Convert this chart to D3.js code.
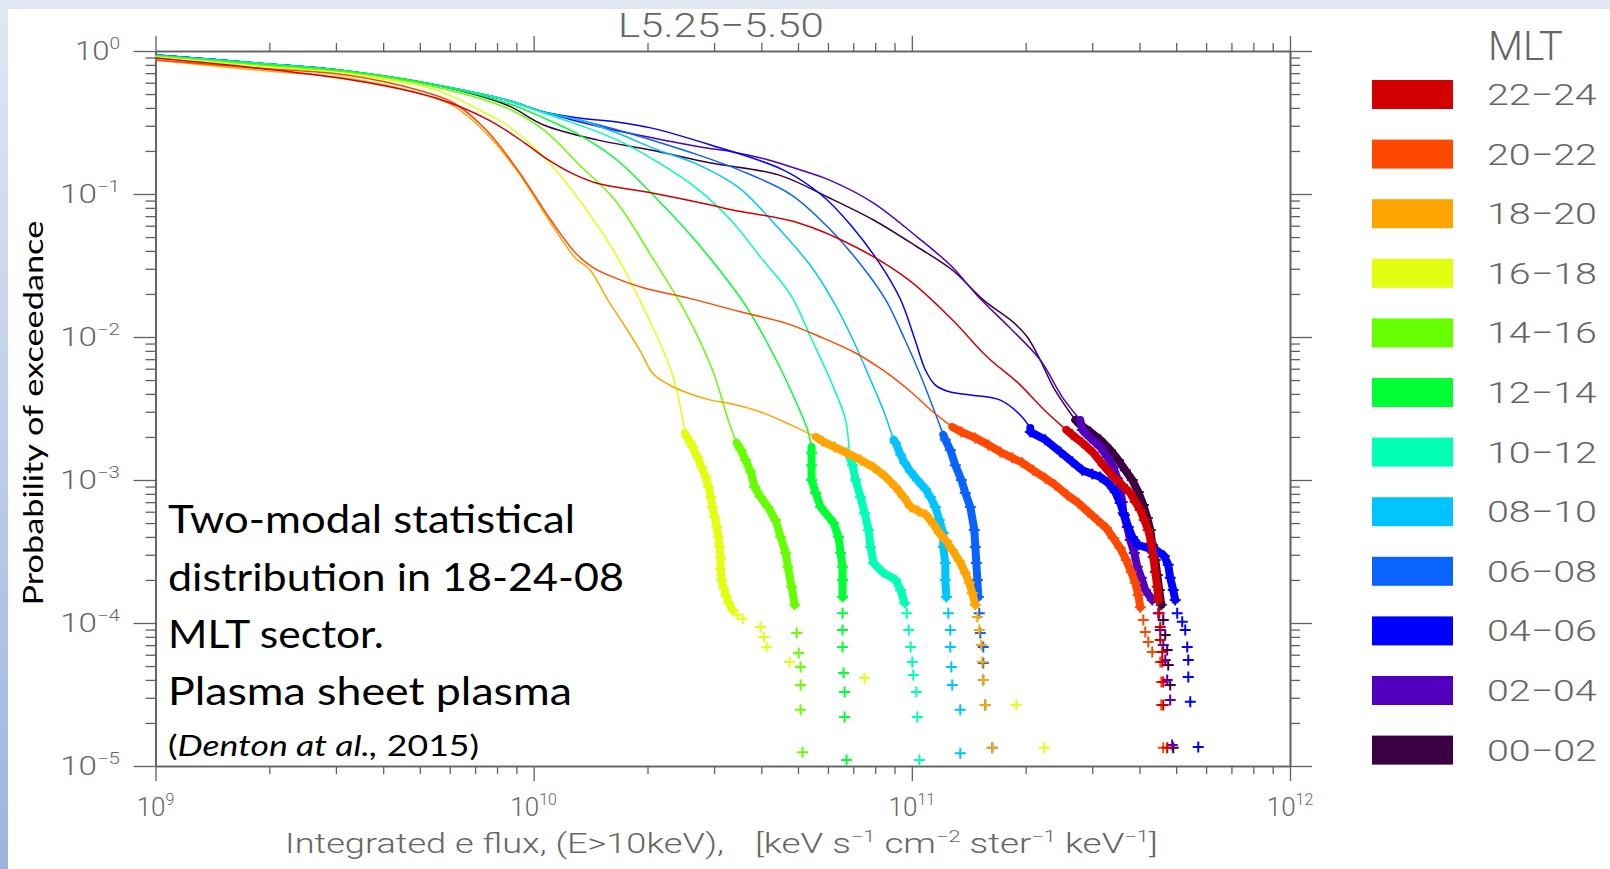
<!DOCTYPE html>
<html><head><meta charset="utf-8">
<script src="https://cdn.jsdelivr.net/npm/d3@7"></script>
<style>
html,body{margin:0;padding:0;width:1610px;height:869px;overflow:hidden;background:#fff;}
svg{display:block}
.ax .domain{stroke:#606060;stroke-width:1.6px}
.ax line{stroke:#606060;stroke-width:1.3px}
.lbl{font-family:Roboto,"DejaVu Sans",sans-serif;font-weight:300;fill:#666}
.note{font-family:Lato,"Open Sans",sans-serif;fill:#000}
</style></head><body>
<svg id="c" width="1610" height="869"></svg>
<script>
// ---------------- data ----------------
const categories = ["22−24","20−22","18−20","16−18","14−16","12−14","10−12","08−10","06−08","04−06","02−04","00−02"];
const seriesColors = ["#d20000","#ff4800","#ffa400","#e2ff12","#66ff00","#00ff33","#00ffb4","#00c4ff","#0a62ff","#0000ff","#5200bd","#3a0042"];
const xTickExponents = ["9","10","11","12"];
const yTickExponents = ["0","−1","−2","−3","−4","−5"];
const xMajor = [1e9,1e10,1e11,1e12];
const yMajor = [1,1e-1,1e-2,1e-3,1e-4,1e-5];
const title = "L5.25−5.50";
const legendTitle = "MLT";

// 22-24 MLT
const line2224 = [[1.0e9,0.894],[1.85e9,0.761],[3.56e9,0.607],[5.51e9,0.469],[7.61e9,0.329],[9.48e9,0.227],[1.063e10,0.182],[1.26e10,0.140],[1.47e10,0.119],[2.04e10,0.102],[2.94e10,0.0838],[3.36e10,0.0773],[5.02e10,0.0627],[7.10e10,0.0426],[9.81e10,0.0251],[1.279e11,0.0132],[1.583e11,0.00725],[1.912e11,0.00476],[2.24e11,0.00309],[2.562e11,0.00224]];
const tail2224 = [[2.656e11,0.00207],[2.823e11,0.00182],[3.018e11,0.00155],[3.208e11,0.00127],[3.409e11,0.00105],[3.601e11,0.000923],[3.781e11,0.000811],[3.898e11,0.000702],[4.019e11,0.000617],[4.118e11,0.000525],[4.219e11,0.000447],[4.297e11,0.000362],[4.349e11,0.00029],[4.403e11,0.000227],[4.457e11,0.000179],[4.484e11,0.000145],[4.511e11,0.000117],[4.539e11,9.38e-5],[4.539e11,7.61e-5],[4.594e11,6.27e-5],[4.594e11,5.33e-5],[4.622e11,3.86e-5],[4.622e11,2.67e-5],[4.735e11,1.34e-5]];
// 20-22 MLT
const line2022 = [[1.0e9,0.865],[1.85e9,0.761],[3.19e9,0.679],[4.94e9,0.534],[6.15e9,0.433],[7.48e9,0.281],[9.08e9,0.147],[1.11e10,0.0658],[1.29e10,0.0387],[1.44e10,0.0304],[1.64e10,0.0259],[1.96e10,0.0220],[2.57e10,0.0187],[3.63e10,0.0147],[4.64e10,0.0125],[5.74e10,0.0100],[7.10e10,0.00773],[8.37e10,0.00588],[9.81e10,0.00426],[1.147e11,0.00294],[1.279e11,0.00235]];
const tail2022 = [[1.352e11,0.00217],[1.472e11,0.00197],[1.593e11,0.00176],[1.714e11,0.00157],[1.844e11,0.00143],[1.959e11,0.00132],[2.094e11,0.00117],[2.254e11,0.00103],[2.395e11,0.000923],[2.576e11,0.000785],[2.755e11,0.00069],[2.928e11,0.000597],[3.093e11,0.000525],[3.267e11,0.000461],[3.409e11,0.000393],[3.557e11,0.000334],[3.69e11,0.000276],[3.804e11,0.000227],[3.898e11,0.000191],[3.97e11,0.000157],[4.019e11,0.000129],[4.093e11,0.000105],[4.143e11,8.65e-5],[4.219e11,7.36e-5],[4.323e11,6.27e-5],[4.539e11,5.33e-5],[4.567e11,3.86e-5],[4.567e11,2.67e-5],[4.622e11,1.34e-5]];
// 18-20 MLT
const line1820 = [[1.0e9,0.865],[1.85e9,0.736],[3.19e9,0.647],[4.94e9,0.508],[6.15e9,0.412],[7.48e9,0.267],[9.08e9,0.143],[1.11e10,0.0627],[1.29e10,0.0356],[1.41e10,0.0294],[1.57e10,0.0182],[1.75e10,0.0117],[1.92e10,0.00785],[2.06e10,0.0056],[2.26e10,0.00469],[2.60e10,0.00399],[2.94e10,0.00362],[3.36e10,0.0034],[3.98e10,0.00299],[4.78e10,0.00243],[5.57e10,0.0020]];
const tail1820 = [[5.80e10,0.00187],[6.25e10,0.0017],[6.72e10,0.00155],[7.32e10,0.00138],[7.92e10,0.00123],[8.53e10,0.00105],[9.06e10,0.000894],[9.51e10,0.000761],[9.93e10,0.000647],[1.04e11,0.000607],[1.092e11,0.000569],[1.14e11,0.000492],[1.182e11,0.000426],[1.234e11,0.000374],[1.279e11,0.000324],[1.335e11,0.000272],[1.385e11,0.000224],[1.419e11,0.000191],[1.445e11,0.000162],[1.472e11,0.000134],[1.49e11,0.00011],[1.508e11,8.94e-5],[1.526e11,7.02e-5],[1.536e11,5.33e-5],[1.545e11,3.99e-5],[1.564e11,2.67e-5],[1.632e11,1.34e-5]];
// 16-18 MLT
const line1618 = [[1.0e9,0.908],[1.85e9,0.785],[3.19e9,0.690],[5.51e9,0.534],[7.61e9,0.357],[8.49e9,0.304],[1.063e10,0.182],[1.32e10,0.0908],[1.64e10,0.0387],[2.04e10,0.0125],[2.32e10,0.0056],[2.48e10,0.00263],[2.51e10,0.00213]];
const tail1618 = [[2.54e10,0.0020],[2.60e10,0.00182],[2.63e10,0.0017],[2.71e10,0.00145],[2.78e10,0.00123],[2.85e10,0.00105],[2.90e10,0.000894],[2.94e10,0.000761],[2.97e10,0.000647],[3.01e10,0.000551],[3.05e10,0.000469],[3.08e10,0.000399],[3.10e10,0.00034],[3.12e10,0.000285],[3.12e10,0.000239],[3.14e10,0.0002],[3.18e10,0.000176],[3.22e10,0.000157],[3.28e10,0.000138],[3.36e10,0.000123],[3.46e10,0.000114],[3.57e10,0.000107],[3.98e10,9.38e-5],[4.06e10,7.98e-5],[4.13e10,6.79e-5],[4.75e10,5.33e-5],[7.50e10,4.12e-5],[1.889e11,2.67e-5],[2.24e11,1.34e-5]];
// 14-16 MLT
const line1416 = [[1.0e9,0.923],[1.85e9,0.798],[3.19e9,0.713],[5.51e9,0.560],[8.49e9,0.399],[1.063e10,0.281],[1.32e10,0.160],[1.64e10,0.0908],[2.04e10,0.0374],[2.54e10,0.0143],[2.97e10,0.00588],[3.30e10,0.00243],[3.44e10,0.00182]];
const tail1416 = [[3.53e10,0.00162],[3.63e10,0.00138],[3.75e10,0.00114],[3.84e10,0.000894],[3.98e10,0.000761],[4.16e10,0.000647],[4.36e10,0.000525],[4.50e10,0.000399],[4.64e10,0.000309],[4.70e10,0.000247],[4.81e10,0.000179],[4.90e10,0.000134],[4.96e10,8.51e-5],[5.02e10,6.17e-5],[5.08e10,4.92e-5],[5.08e10,3.68e-5],[5.08e10,2.47e-5],[5.14e10,1.25e-5]];
// 12-14 MLT
const line1214 = [[1.0e9,0.923],[1.85e9,0.811],[3.19e9,0.725],[5.51e9,0.578],[8.49e9,0.433],[1.063e10,0.340],[1.32e10,0.259],[1.66e10,0.173],[2.13e10,0.0908],[2.60e10,0.0517],[3.10e10,0.0294],[3.63e10,0.0167],[4.23e10,0.00824],[4.78e10,0.00426],[5.30e10,0.00224],[5.43e10,0.0017]];
const tail1214 = [[5.43e10,0.00155],[5.43e10,0.00127],[5.43e10,0.001],[5.57e10,0.000811],[5.74e10,0.000647],[6.21e10,0.0005],[6.40e10,0.000399],[6.48e10,0.000309],[6.56e10,0.000247],[6.56e10,0.0002],[6.56e10,0.000152],[6.56e10,0.000117],[6.56e10,8.94e-5],[6.56e10,6.79e-5],[6.60e10,4.47e-5],[6.64e10,3.29e-5],[6.64e10,2.2e-5],[6.72e10,1.1e-5]];
// 10-12 MLT
const line1012 = [[1.0e9,0.923],[1.85e9,0.824],[3.19e9,0.725],[5.51e9,0.578],[8.49e9,0.454],[1.063e10,0.368],[1.32e10,0.304],[1.66e10,0.239],[2.13e10,0.167],[2.73e10,0.107],[3.32e10,0.0658],[3.98e10,0.0362],[4.78e10,0.0197],[5.43e10,0.00968],[6.17e10,0.00461],[6.68e10,0.00263],[6.84e10,0.00145]];
const tail1012 = [[6.97e10,0.00127],[7.10e10,0.001],[7.32e10,0.000761],[7.50e10,0.000588],[7.68e10,0.000447],[7.78e10,0.00034],[7.92e10,0.000263],[8.37e10,0.000227],[9.06e10,0.0002],[9.34e10,0.00017],[9.57e10,0.000138],[9.69e10,0.000117],[9.81e10,8.94e-5],[9.93e10,6.79e-5],[1.003e11,5.33e-5],[1.009e11,4.33e-5],[1.028e11,3.29e-5],[1.034e11,2.2e-5],[1.047e11,1.1e-5]];
// 08-10 MLT
const line0810 = [[1.0e9,0.938],[1.85e9,0.824],[3.19e9,0.725],[5.51e9,0.578],[8.49e9,0.454],[1.063e10,0.374],[1.32e10,0.329],[1.66e10,0.267],[2.13e10,0.203],[2.73e10,0.160],[3.50e10,0.110],[4.36e10,0.0607],[5.43e10,0.0309],[6.28e10,0.0167],[6.97e10,0.00968],[7.78e10,0.0050],[8.42e10,0.00304],[8.95e10,0.00191]];
const tail0810 = [[9.06e10,0.00182],[9.34e10,0.0015],[9.57e10,0.00132],[9.93e10,0.00114],[1.034e11,0.001],[1.086e11,0.000865],[1.119e11,0.000761],[1.154e11,0.000647],[1.182e11,0.000525],[1.211e11,0.000426],[1.211e11,0.00034],[1.226e11,0.000263],[1.226e11,0.0002],[1.234e11,0.000152],[1.249e11,0.000117],[1.264e11,8.94e-5],[1.264e11,6.79e-5],[1.272e11,4.92e-5],[1.279e11,3.68e-5],[1.343e11,2.47e-5],[1.343e11,1.23e-5]];
// 06-08 MLT
const line0608 = [[1.0e9,0.938],[1.85e9,0.824],[3.19e9,0.725],[5.51e9,0.578],[8.49e9,0.454],[1.063e10,0.374],[1.32e10,0.329],[1.66e10,0.281],[2.13e10,0.231],[2.73e10,0.187],[3.50e10,0.147],[4.81e10,0.0984],[6.10e10,0.0560],[7.41e10,0.0309],[8.53e10,0.0182],[9.57e10,0.00968],[1.053e11,0.00542],[1.147e11,0.00304],[1.211e11,0.00207]];
const tail0608 = [[1.226e11,0.00191],[1.264e11,0.00162],[1.303e11,0.00127],[1.352e11,0.001],[1.385e11,0.000811],[1.428e11,0.000647],[1.463e11,0.000447],[1.472e11,0.00034],[1.481e11,0.000263],[1.49e11,0.0002],[1.499e11,0.000152],[1.508e11,0.000117],[1.517e11,8.51e-5],[1.545e11,6.79e-5],[1.545e11,5.25e-5],[1.545e11,3.99e-5],[1.564e11,2.67e-5],[1.632e11,1.34e-5]];
// 04-06 MLT
const line0406 = [[1.0e9,0.938],[1.85e9,0.824],[3.19e9,0.725],[5.51e9,0.578],[8.49e9,0.454],[1.063e10,0.374],[1.32e10,0.340],[1.66e10,0.319],[2.04e10,0.290],[2.94e10,0.220],[4.58e10,0.147],[5.77e10,0.0984],[6.89e10,0.0607],[8.27e10,0.0319],[9.34e10,0.0182],[1.02e11,0.00953],[1.086e11,0.00588],[1.154e11,0.00461],[1.264e11,0.00412],[1.428e11,0.00393],[1.714e11,0.00362],[1.935e11,0.00285],[2.057e11,0.00231]];
const tail0406 = [[2.057e11,0.00217],[2.254e11,0.00191],[2.47e11,0.00157],[2.656e11,0.00134],[2.823e11,0.00117],[3.0e11,0.0011],[3.15e11,0.00105],[3.307e11,0.000953],[3.451e11,0.000824],[3.557e11,0.00069],[3.645e11,0.000569],[3.735e11,0.000469],[3.828e11,0.000399],[3.97e11,0.000351],[4.219e11,0.000334],[4.457e11,0.000319],[4.65e11,0.000294],[4.764e11,0.000255],[4.822e11,0.000207],[4.911e11,0.00017],[4.971e11,0.000145],[5.032e11,0.000117],[5.188e11,0.000102],[5.284e11,8.94e-5],[5.349e11,6.79e-5],[5.383e11,5.51e-5],[5.383e11,4.19e-5],[5.448e11,2.81e-5],[5.72e11,1.36e-5]];
// 02-04 MLT
const line0204 = [[1.0e9,0.938],[1.85e9,0.824],[3.19e9,0.725],[5.51e9,0.578],[8.49e9,0.454],[1.063e10,0.374],[1.50e10,0.294],[2.00e10,0.251],[2.76e10,0.213],[3.36e10,0.197],[4.18e10,0.173],[5.08e10,0.147],[6.06e10,0.125],[7.92e10,0.0865],[1.034e11,0.0500],[1.279e11,0.0309],[1.499e11,0.0191],[1.81e11,0.0117],[2.186e11,0.0069],[2.50e11,0.0038],[2.789e11,0.00263]];
const tail0204 = [[2.823e11,0.00224],[2.964e11,0.00197],[3.15e11,0.0017],[3.287e11,0.00145],[3.409e11,0.00123],[3.493e11,0.00103],[3.557e11,0.000865],[3.601e11,0.000702],[3.623e11,0.000588],[3.713e11,0.000469],[3.781e11,0.00038],[3.874e11,0.000309],[3.946e11,0.000247],[4.044e11,0.000207],[4.143e11,0.00017],[4.323e11,0.000145],[4.484e11,0.000117],[4.539e11,8.94e-5],[4.622e11,7.02e-5],[4.678e11,5.51e-5],[4.735e11,3.99e-5],[4.822e11,2.9e-5],[4.881e11,1.4e-5]];
// 00-02 MLT
const line0002 = [[1.0e9,0.938],[1.85e9,0.824],[3.19e9,0.725],[5.51e9,0.578],[8.49e9,0.419],[1.063e10,0.304],[1.47e10,0.239],[2.04e10,0.203],[2.94e10,0.165],[4.44e10,0.136],[6.06e10,0.0938],[7.92e10,0.0658],[1.034e11,0.0426],[1.279e11,0.0294],[1.545e11,0.0182],[1.866e11,0.0125],[2.02e11,0.0100],[2.186e11,0.0069],[2.366e11,0.00447],[2.705e11,0.00263]];
const tail0002 = [[2.789e11,0.00243],[2.964e11,0.00217],[3.15e11,0.00191],[3.348e11,0.00162],[3.515e11,0.00138],[3.668e11,0.00117],[3.828e11,0.001],[3.97e11,0.000824],[4.093e11,0.000668],[4.194e11,0.000542],[4.271e11,0.000447],[4.323e11,0.000351],[4.403e11,0.000276],[4.457e11,0.000217],[4.511e11,0.00017],[4.567e11,0.000134],[4.622e11,0.000105],[4.678e11,8.24e-5],[4.735e11,6.47e-5],[4.764e11,5.08e-5],[4.822e11,3.68e-5],[4.911e11,1.34e-5]];

const lines = [line2224,line2022,line1820,line1618,line1416,line1214,line1012,line0810,line0608,line0406,line0204,line0002];
const tails = [tail2224,tail2022,tail1820,tail1618,tail1416,tail1214,tail1012,tail0810,tail0608,tail0406,tail0204,tail0002];

const noteLines = ["Two-modal statistical","distribution in 18-24-08","MLT sector.","Plasma sheet plasma"];

// ---------------- drawing ----------------
const svg = d3.select("#c");
const defs = svg.append("defs");
const grad = defs.append("linearGradient").attr("id","bg").attr("x1",0).attr("y1",0).attr("x2",0).attr("y2",1);
grad.append("stop").attr("offset","0%").attr("stop-color","#e1e8f4");
grad.append("stop").attr("offset","100%").attr("stop-color","#9db3df");
svg.append("rect").attr("width",1610).attr("height",869).attr("fill","url(#bg)");
svg.append("rect").attr("x",8).attr("y",9).attr("width",1602).attr("height",860).attr("fill","#fff");

const P = {left:155.5, right:1290, top:51, bottom:766};
const x = d3.scaleLog().domain([1e9,1e12]).range([P.left,P.right]);
const y = d3.scaleLog().domain([1e-5,1]).range([P.bottom,P.top]);

function fitWidth(sel, w){
  const bb = sel.node().getBBox();
  const k = w / bb.width;
  sel.attr("transform", `translate(${bb.x},0) scale(${k},1) translate(${-bb.x},0)`);
}
function fitWidthRight(sel, w){
  const bb = sel.node().getBBox();
  const k = w / bb.width;
  const r = bb.x + bb.width;
  sel.attr("transform", `translate(${r},0) scale(${k},1) translate(${-r},0)`);
}

// minor tick values
const minorX = []; for (let e=9;e<12;e++) for (let m=2;m<10;m++) minorX.push(m*Math.pow(10,e));
const minorY = []; for (let e=-5;e<0;e++) for (let m=2;m<10;m++) minorY.push(m*Math.pow(10,e));

const ax = svg.append("g").attr("class","ax");
ax.append("g").attr("transform",`translate(0,${P.bottom})`).call(d3.axisBottom(x).tickValues(xMajor).tickSize(15).tickSizeOuter(0).tickFormat(""));
ax.append("g").attr("transform",`translate(0,${P.bottom})`).call(d3.axisBottom(x).tickValues(minorX).tickSize(8).tickSizeOuter(0).tickFormat(""));
ax.append("g").attr("transform",`translate(0,${P.top})`).call(d3.axisTop(x).tickValues(xMajor).tickSize(15).tickSizeOuter(0).tickFormat(""));
ax.append("g").attr("transform",`translate(0,${P.top})`).call(d3.axisTop(x).tickValues(minorX).tickSize(8).tickSizeOuter(0).tickFormat(""));
ax.append("g").attr("transform",`translate(${P.left},0)`).call(d3.axisLeft(y).tickValues(yMajor).tickSize(22).tickSizeOuter(0).tickFormat(""));
ax.append("g").attr("transform",`translate(${P.left},0)`).call(d3.axisLeft(y).tickValues(minorY).tickSize(10).tickSizeOuter(0).tickFormat(""));
ax.append("g").attr("transform",`translate(${P.right},0)`).call(d3.axisRight(y).tickValues(yMajor).tickSize(22).tickSizeOuter(0).tickFormat(""));
ax.append("g").attr("transform",`translate(${P.right},0)`).call(d3.axisRight(y).tickValues(minorY).tickSize(10).tickSizeOuter(0).tickFormat(""));

// tick labels
yMajor.forEach((v,i)=>{
  const t = svg.append("text").attr("class","lbl").attr("x",120).attr("y",y(v)+9).attr("text-anchor","end");
  t.append("tspan").attr("font-size",26).text("10");
  t.append("tspan").attr("font-size",16).attr("dy",-11).text(yTickExponents[i]);
  fitWidthRight(t, i===0 ? 45 : 60);
});
xMajor.forEach((v,i)=>{
  const t = svg.append("text").attr("class","lbl").attr("x",x(v)).attr("y",816).attr("text-anchor","middle");
  t.append("tspan").attr("font-size",26).text("10");
  t.append("tspan").attr("font-size",16).attr("dy",-11).text(xTickExponents[i]);
});

// x axis title
const xt1 = svg.append("text").attr("class","lbl").attr("x",285).attr("y",853).attr("font-size",27).text("Integrated e flux, (E>10keV),");
fitWidth(xt1, 439);
const xt2 = svg.append("text").attr("class","lbl").attr("x",755).attr("y",853).attr("font-size",27);
const unitParts = [["[keV s",""],["−1",1],[" cm",""],["−2",1],[" ster",""],["−1",1],[" keV",""],["−1",1],["]",""]];
let sup=false;
unitParts.forEach(([s,isSup])=>{
  const ts = xt2.append("tspan").text(s);
  if (isSup){ ts.attr("font-size",16).attr("dy",-11); sup=true; }
  else if (sup){ ts.attr("dy",11); sup=false; }
});
fitWidth(xt2, 403);

// title
const tt = svg.append("text").attr("class","lbl").attr("x",618).attr("y",37).attr("font-size",34).text(title);
fitWidth(tt, 206);

// y axis title
const yg = svg.append("g").attr("transform","translate(43,413.5) rotate(-90)");
const yt = yg.append("text").attr("class","note").attr("x",-192).attr("y",0).attr("font-size",27).text("Probability of exceedance");
fitWidth(yt, 385);

// series (draw from 00-02 to 22-24 so red ends on top)
const lineGen = d3.line().x(d=>x(d[0])).y(d=>y(d[1])).curve(d3.curveCatmullRom.alpha(0.5));
const bandGen = d3.line().x(d=>x(d[0])).y(d=>y(d[1])).curve(d3.curveLinear);
const plot = svg.append("g");
for (let i = categories.length-1; i>=0; i--){
  const col = seriesColors[i];
  plot.append("path").attr("d", lineGen(lines[i])).attr("fill","none").attr("stroke",col).attr("stroke-width",1.5);
  const dense = [lines[i][lines[i].length-1]].concat(tails[i].filter(d=>d[1]>=1.2e-4));
  plot.append("path").attr("d", bandGen(dense)).attr("fill","none").attr("stroke",col).attr("stroke-width",8).attr("stroke-linejoin","round").attr("stroke-linecap","round");
  plot.append("g").selectAll("path").data(tails[i]).join("path")
    .attr("d", d=>`M${x(d[0])-5.5},${y(d[1])}h11M${x(d[0])},${y(d[1])-5.5}v11`)
    .attr("stroke",col).attr("stroke-width",2).attr("fill","none");
}

// legend
const lg = svg.append("g");
const mlt = lg.append("text").attr("class","lbl").attr("x",1488).attr("y",60).attr("font-size",40).text(legendTitle);
fitWidth(mlt, 75);
categories.forEach((c,i)=>{
  const top = 80 + i*59.6;
  lg.append("rect").attr("x",1372).attr("y",top).attr("width",81).attr("height",29).attr("fill",seriesColors[i]);
  const t = lg.append("text").attr("class","lbl").attr("x",1487).attr("y",top+25).attr("font-size",30).text(c);
  fitWidth(t, 110);
});

// annotation
const nb = [533,591,648,705];
const nw = [407,456,216,404];
noteLines.forEach((s,i)=>{
  const t = svg.append("text").attr("class","note").attr("x",168).attr("y",nb[i]).attr("font-size",39).text(s);
  fitWidth(t, nw[i]);
});
const cite = svg.append("text").attr("class","note").attr("x",168).attr("y",756).attr("font-size",29);
cite.append("tspan").text("(");
cite.append("tspan").attr("font-style","italic").text("Denton at al.,");
cite.append("tspan").text(" 2015)");
fitWidth(cite, 311);
</script>
</body></html>
